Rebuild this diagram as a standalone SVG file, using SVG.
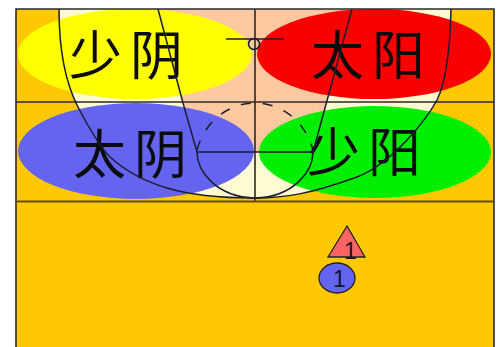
<svg xmlns="http://www.w3.org/2000/svg" width="497" height="347" viewBox="0 0 497 347">
<style>
.ln{fill:none;stroke:#2a2a2a;stroke-width:1.6}
.k{fill:none;stroke:#1c1c30;stroke-width:1.500}
.cn{font-family:"Noto Sans CJK SC","Noto Sans CJK JP",sans-serif;font-size:53px;font-weight:400;fill:#0c0c0c;letter-spacing:8px}
.num{font-family:"Liberation Sans",sans-serif;font-size:23px;fill:#14142a}
</style>
<rect width="497" height="347" fill="#fff"/>
<g id="court">
<rect x="16" y="9" width="478" height="338" fill="#ffc800"/>
<path d="M59 9C59 45 64 80 78 107C90 130 100 147 110 157C130 175 150 183 167 188C190 195 215 198 255 198C285 198 310 194 357 177C375 170 392 156 407 140C420 126 430 113 437 100C446 82 450 50 451 9Z" fill="#fffad2"/>
<path d="M158 9L183 103L197 152H313L328 97L352 9Z" fill="#fcc8a0"/>
</g>
<g id="yellow"><ellipse cx="135" cy="54" rx="117" ry="45" fill="#ffff00"/><text class="cn" x="69" y="75">少阴</text></g>
<g id="red"><ellipse cx="374" cy="54" rx="117" ry="45" fill="#fa0000"/><text class="cn" x="311" y="75">太阳</text></g>
<g id="blue"><ellipse cx="136" cy="151" rx="118" ry="48" fill="#6464f0"/><text class="cn" x="73" y="174">太阴</text></g>
<g id="green"><ellipse cx="375" cy="152" rx="116" ry="46" fill="#00ee00"/><text class="cn" x="307" y="172">少阳</text></g>
<g id="connectors">
<path class="ln" d="M16 347V9H494V347"/>
<path class="ln" d="M16 102H494M255 9V201"/>
<path d="M16 201.500H494" fill="none" stroke="#6b4a10" stroke-width="1.800"/>
<path class="k" d="M59 9C59 45 64 80 78 107C90 130 100 147 110 157C130 175 150 183 167 188C190 195 215 198 255 198C285 198 310 194 357 177C375 170 392 156 407 140C420 126 430 113 437 100C446 82 450 50 451 9"/>
<path class="k" d="M158 9L183 103L197 152C197 170 215 197 255 198C295 197 313 170 313 152L328 97L352 9"/>
<path class="k" d="M197 152H313"/>
<path class="k" stroke-width="1.800" stroke-dasharray="10 12" d="M197 150C205 120 230 103 255 103C280 103 305 120 313 150"/>
<path class="k" d="M226 39H284"/>
<circle class="k" cx="254" cy="44" r="5.500"/>
</g>
<g id="player-triangle"><path d="M347 226L328 257H365Z" fill="#ff6464" stroke="#222" stroke-width="1.300"/><text class="num" x="344" y="259">1</text></g>
<g id="player-circle"><ellipse cx="337" cy="278" rx="18" ry="15" fill="#6464f0" stroke="#222" stroke-width="1.300"/><text class="num" x="333" y="287">1</text></g>
</svg>
